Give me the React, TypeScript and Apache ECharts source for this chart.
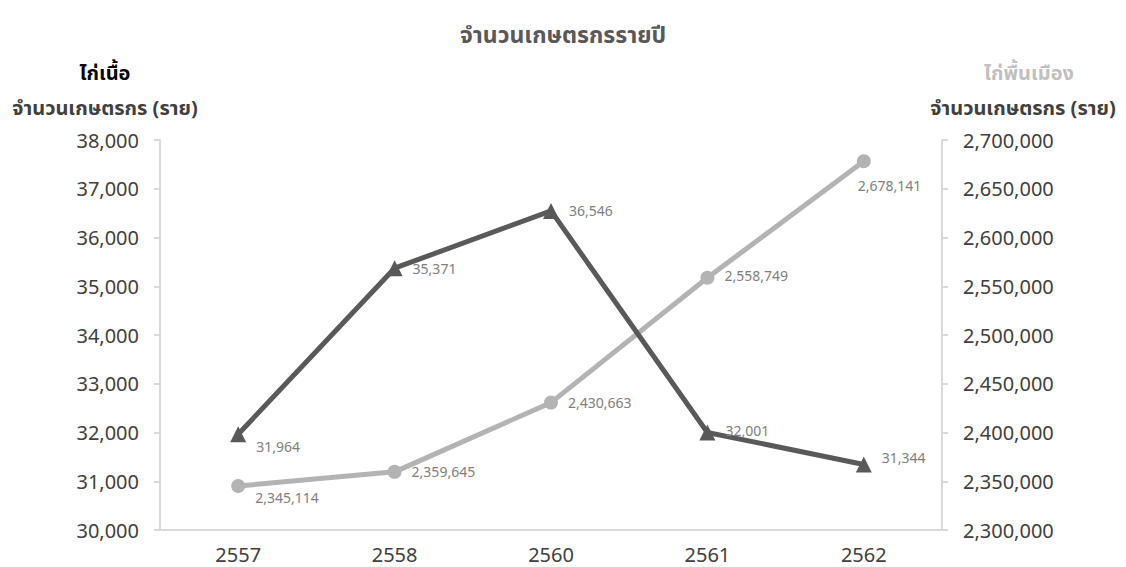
import React, { useEffect, useRef } from "react";
import * as echarts from "echarts";

const years = ["2557", "2558", "2560", "2561", "2562"];
const broiler = [31964, 35371, 36546, 32001, 31344];
const native = [2345114, 2359645, 2430663, 2558749, 2678141];
const broilerOffsets: [number, number][] = [[0, 12], [0, 0], [0, 0], [0, -2], [0, -7]];
const nativeOffsets: [number, number][] = [[0, 11], [0, 0], [0, 0], [0, -2], [-23, 24]];

const fmt = (v: number) => v.toLocaleString("en-US");
const FONT = "'Noto Sans', 'Noto Sans Thai', sans-serif";

export default function App() {
  const ref = useRef<HTMLDivElement>(null);
  useEffect(() => {
    if (!ref.current) return;
    const chart = echarts.init(ref.current, undefined, { renderer: "svg" });
    chart.setOption({
      animation: false,
      textStyle: { fontFamily: FONT },
      title: {
        text: "จำนวนเกษตรกรรายปี",
        left: "center",
        top: 9,
        textStyle: { fontSize: 23, fontWeight: "bold", color: "#595959", fontFamily: FONT },
      },
      graphic: [
        { type: "text", x: 97, y: 64, style: { text: "ไก่เนื้อ", fontSize: 20, fontWeight: "bold", fill: "#000", fontFamily: FONT, textAlign: "center", textVerticalAlign: "middle" } },
        { type: "text", x: 97, y: 99, style: { text: "จำนวนเกษตรกร (ราย)", fontSize: 20, fontWeight: "bold", fill: "#404040", fontFamily: FONT, textAlign: "center", textVerticalAlign: "middle" } },
        { type: "text", x: 1021, y: 64, style: { text: "ไก่พื้นเมือง", fontSize: 20, fontWeight: "bold", fill: "#bfbfbf", fontFamily: FONT, textAlign: "center", textVerticalAlign: "middle" } },
        { type: "text", x: 1015, y: 99, style: { text: "จำนวนเกษตรกร (ราย)", fontSize: 20, fontWeight: "bold", fill: "#404040", fontFamily: FONT, textAlign: "center", textVerticalAlign: "middle" } },
      ],
      grid: { left: 152, right: 176, top: 132, bottom: 36, containLabel: false },
      xAxis: {
        type: "category",
        data: years,
        boundaryGap: true,
        axisLine: { lineStyle: { color: "#d9d9d9", width: 2 } },
        axisTick: { show: false },
        axisLabel: { fontSize: 20, color: "#404040", margin: 14, fontFamily: FONT },
      },
      yAxis: [
        {
          type: "value",
          min: 30000,
          max: 38000,
          interval: 1000,
          position: "left",
          axisLine: { show: true, lineStyle: { color: "#d9d9d9", width: 2 } },
          axisTick: { show: true, length: 6, lineStyle: { color: "#d9d9d9", width: 2 } },
          splitLine: { show: false },
          axisLabel: { fontSize: 20, color: "#404040", margin: 21, formatter: (v: number) => fmt(v), fontFamily: FONT },
        },
        {
          type: "value",
          min: 2300000,
          max: 2700000,
          interval: 50000,
          position: "right",
          axisLine: { show: true, lineStyle: { color: "#d9d9d9", width: 2 } },
          axisTick: { show: true, length: 6, lineStyle: { color: "#d9d9d9", width: 2 } },
          splitLine: { show: false },
          axisLabel: { fontSize: 20, color: "#404040", margin: 21, formatter: (v: number) => fmt(v), fontFamily: FONT },
        },
      ],
      series: [
        {
          name: "ไก่พื้นเมือง",
          type: "line",
          yAxisIndex: 1,
          data: native.map((v, i) => ({
            value: v,
            label: { offset: nativeOffsets[i] },
          })),
          symbol: "circle",
          symbolSize: 14,
          lineStyle: { color: "#b3b3b3", width: 5 },
          itemStyle: { color: "#b3b3b3" },
          label: {
            show: true,
            position: "right",
            distance: 10,
            fontSize: 14,
            color: "#808080",
            formatter: (p: any) => fmt(p.value),
            fontFamily: FONT,
          },
          z: 2,
        },
        {
          name: "ไก่เนื้อ",
          type: "line",
          yAxisIndex: 0,
          data: broiler.map((v, i) => ({
            value: v,
            label: { offset: broilerOffsets[i] },
          })),
          symbol: "triangle",
          symbolSize: 16,
          lineStyle: { color: "#595959", width: 5 },
          itemStyle: { color: "#595959" },
          label: {
            show: true,
            position: "right",
            distance: 10,
            fontSize: 14,
            color: "#808080",
            formatter: (p: any) => fmt(p.value),
            fontFamily: FONT,
          },
          z: 3,
        },
      ],
    });
    return () => chart.dispose();
  }, []);
  return <div ref={ref} style={{ width: 1110, height: 558 }} />;
}
